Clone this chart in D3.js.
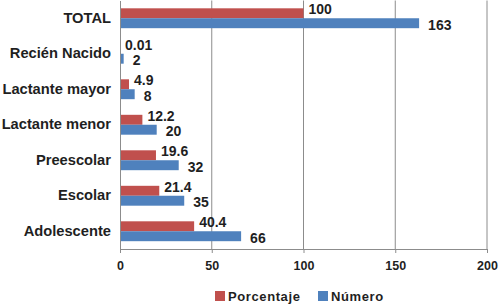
<!DOCTYPE html>
<html>
<head>
<meta charset="utf-8">
<script src="https://cdn.jsdelivr.net/npm/d3@7"></script>
<style>
  body { margin: 0; background: #fff; }
  text { font-family: "Liberation Sans", Arial, sans-serif; font-weight: bold; fill: #1f1f1f; }
</style>
</head>
<body>
<div id="chart"></div>
<script>
const width = 499,
  height = 304,
  margin = { top: 0.5, right: 12, bottom: 55, left: 120 };

// data
const categories = ['TOTAL', 'Recién Nacido', 'Lactante mayor', 'Lactante menor', 'Preescolar', 'Escolar', 'Adolescente'];
const porcentaje = [100, 0.01, 4.9, 12.2, 19.6, 21.4, 40.4];
const numero = [163, 2, 8, 20, 32, 35, 66];
const seriesNames = ['Porcentaje', 'Número'];
const seriesColors = ['#C0504D', '#4F81BD'];
const xTicks = [0, 50, 100, 150, 200];

const rows = categories.map((c, i) => ({ cat: c, vals: [porcentaje[i], numero[i]] }));

const svg = d3.select('#chart').append('svg')
  .attr('width', width)
  .attr('height', height);

const x = d3.scaleLinear().domain([0, 200]).range([margin.left, width - margin.right]);
const y = d3.scaleBand().domain(categories).range([margin.top, height - margin.bottom]).paddingInner(0.44).paddingOuter(0.22);
const ys = d3.scaleBand().domain([0, 1]).range([0, y.bandwidth()]);

// gridlines
svg.append('g')
  .selectAll('line')
  .data(xTicks.slice(1))
  .join('line')
  .attr('x1', d => x(d)).attr('x2', d => x(d))
  .attr('y1', margin.top).attr('y2', height - margin.bottom)
  .attr('stroke', '#8c8c8c').attr('stroke-width', 1);

// bars
const groups = svg.append('g')
  .selectAll('g')
  .data(rows)
  .join('g')
  .attr('transform', d => `translate(0,${y(d.cat)})`);

groups.selectAll('rect')
  .data(d => d.vals)
  .join('rect')
  .attr('x', x(0))
  .attr('y', (d, i) => ys(i))
  .attr('width', d => x(d) - x(0))
  .attr('height', ys.bandwidth())
  .attr('fill', (d, i) => seriesColors[i]);

// value labels, red ones lifted a little so the pairs don't collide
groups.selectAll('text')
  .data(d => d.vals)
  .join('text')
  .attr('x', (d, i) => x(d) + (i === 0 ? 5 : 9))
  .attr('y', (d, i) => ys(i) + ys.bandwidth() / 2 + (i === 0 ? -4 : 1.5))
  .attr('dy', '0.36em')
  .style('font-size', '14px')
  .text(d => d);

// x axis
const xAxis = svg.append('g')
  .attr('transform', `translate(0,${height - margin.bottom})`)
  .call(d3.axisBottom(x).tickValues(xTicks).tickSize(4).tickPadding(8));
xAxis.select('.domain').attr('stroke', '#8c8c8c');
xAxis.selectAll('.tick line').attr('stroke', '#8c8c8c');
xAxis.selectAll('.tick text').style('font-size', '12.5px').attr('fill', '#1f1f1f');

// y axis
const yAxis = svg.append('g')
  .attr('transform', `translate(${margin.left},0)`)
  .call(d3.axisLeft(y).tickSize(0).tickPadding(9));
yAxis.select('.domain').attr('stroke', '#8c8c8c');
yAxis.selectAll('.tick text').style('font-size', '14.7px').attr('fill', '#1f1f1f');

// legend
const legend = svg.append('g').attr('transform', 'translate(215,291)');
const legendX = [0, 103];
seriesNames.forEach((name, i) => {
  const g = legend.append('g').attr('transform', `translate(${legendX[i]},0)`);
  g.append('rect').attr('width', 10).attr('height', 10).attr('fill', seriesColors[i]);
  g.append('text').attr('x', 13).attr('y', 5).attr('dy', '0.36em')
    .style('font-size', '13px').style('letter-spacing', '0.6px').text(name);
});
</script>
</body>
</html>
